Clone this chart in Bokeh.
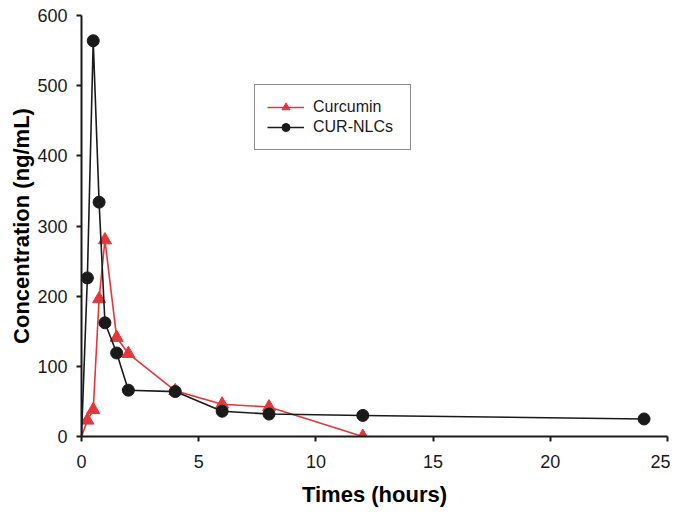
from bokeh.plotting import figure
from bokeh.models import Range1d, Legend, LegendItem, FixedTicker
from bokeh.embed import file_html
from bokeh.resources import INLINE

# Data
time_cur = [0, 0.25, 0.5, 0.75, 1, 1.5, 2, 4, 6, 8, 12]
conc_cur = [0, 23, 38, 196, 280, 141, 118, 65, 46, 42, 0]
time_nlc = [0, 0.25, 0.5, 0.75, 1, 1.5, 2, 4, 6, 8, 12, 24]
conc_nlc = [0, 226, 564, 334, 162, 119, 66, 64, 36, 32, 30, 25]
x_ticks = [0, 5, 10, 15, 20, 25]
y_ticks = [0, 100, 200, 300, 400, 500, 600]

RED = "#e2383c"
BLACK = "#1a1a1a"
FONT = "Liberation Sans"

p = figure(width=670, height=512, output_backend="svg", toolbar_location=None,
           x_range=Range1d(0, 25), y_range=Range1d(0, 600),
           min_border_left=81, min_border_right=3, min_border_top=15, min_border_bottom=76)
p.outline_line_color = None
p.grid.visible = False
p.background_fill_color = "white"
p.border_fill_color = "white"

r1l = p.line(time_cur, conc_cur, line_color=RED, line_width=1.6)
r1m = p.scatter(time_cur[1:], conc_cur[1:], marker="triangle", size=13,
                fill_color=RED, line_color=RED)
r2l = p.line(time_nlc, conc_nlc, line_color=BLACK, line_width=1.6)
r2m = p.scatter(time_nlc[1:], conc_nlc[1:], marker="circle", size=12,
                fill_color=BLACK, line_color=BLACK)

for ax in (p.xaxis[0], p.yaxis[0]):
    ax.axis_line_width = 2
    ax.axis_line_color = BLACK
    ax.major_tick_line_width = 2
    ax.major_tick_line_color = BLACK
    ax.major_tick_out = 5
    ax.major_tick_in = 0
    ax.minor_tick_line_color = None
    ax.major_label_text_font = FONT
    ax.major_label_text_font_size = "18px"
    ax.major_label_text_color = BLACK
    ax.axis_label_text_font = FONT
    ax.axis_label_text_font_size = "22px"
    ax.axis_label_text_font_style = "bold"
    ax.axis_label_text_color = "black"

p.xaxis.ticker = FixedTicker(ticks=x_ticks)
p.yaxis.ticker = FixedTicker(ticks=y_ticks)
p.xaxis.axis_label = "Times (hours)"
p.yaxis.axis_label = "Concentration (ng/mL)"
p.xaxis.major_label_standoff = 13
p.yaxis.major_label_standoff = 9
p.xaxis.axis_label_standoff = 11
p.yaxis.axis_label_standoff = 0

legend = Legend(items=[LegendItem(label="Curcumin", renderers=[r1l, r1m]),
                       LegendItem(label="CUR-NLCs", renderers=[r2l, r2m])],
                location=(173, 286))
legend.border_line_color = BLACK
legend.border_line_width = 1.2
legend.background_fill_alpha = 1
legend.padding = 12
legend.spacing = 0
legend.margin = 0
legend.label_height = 20
legend.glyph_height = 20
legend.glyph_width = 37
legend.label_standoff = 9
legend.label_width = 85
legend.label_text_font = FONT
legend.label_text_font_size = "16px"
legend.label_text_color = BLACK
p.add_layout(legend, "center")

open("out.html", "w").write(file_html(p, INLINE))
